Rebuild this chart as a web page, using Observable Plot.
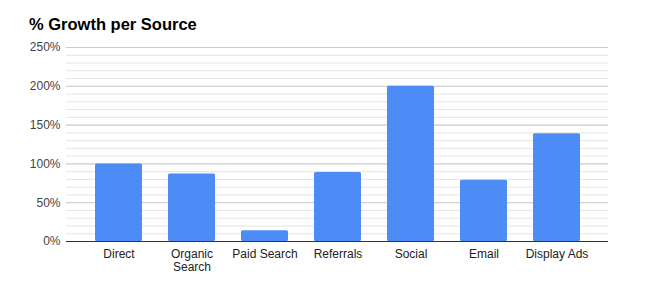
<!DOCTYPE html>
<html>
<head>
<meta charset="utf-8">
<script src="https://cdn.jsdelivr.net/npm/d3@7"></script>
<script src="https://cdn.jsdelivr.net/npm/@observablehq/plot@0.6"></script>
<style>
  html, body { margin: 0; padding: 0; background: #fff; }
  #wrap { width: 661px; height: 285px; font-family: Arial, "Liberation Sans", sans-serif; }
  #title { height: 36px; box-sizing: border-box; padding: 16px 0 0 29px; font-size: 16.5px; line-height: 16px; font-weight: bold; color: #000; }
  svg { display: block; }
</style>
</head>
<body>
<div id="wrap">
  <div id="title">% Growth per Source</div>
  <div id="chart"></div>
</div>
<script>
const categories = ["Direct", "Organic\nSearch", "Paid Search", "Referrals", "Social", "Email", "Display Ads"];
const growth = [100, 87, 14, 89, 200, 79, 139];
const yTicks = [0, 50, 100, 150, 200, 250];

const data = categories.map((c, i) => ({ source: c, value: growth[i] }));

const chart = Plot.plot({
  width: 661,
  height: 249,
  marginLeft: 66,
  marginRight: 53,
  marginTop: 11,
  marginBottom: 44,
  style: { fontFamily: "Arial, 'Liberation Sans', sans-serif", fontSize: "12px", background: "#fff" },
  x: { domain: categories, padding: 0.36, label: null },
  y: { domain: [0, 250], label: null },
  marks: [
    Plot.gridY({ interval: 10, stroke: "#e4e4e4", strokeOpacity: 1 }),
    Plot.gridY({ ticks: yTicks, stroke: "#cccccc", strokeOpacity: 1 }),
    Plot.barY(data, { x: "source", y: "value", fill: "#4d8cf6", rx: 1.5 }),
    Plot.ruleY([0], { stroke: "#333", strokeWidth: 1.2 }),
    Plot.axisY({ ticks: yTicks, tickSize: 0, tickPadding: 6, tickFormat: d => d + "%", fill: "#444", fontSize: 12 }),
    Plot.axisX({ tickSize: 0, tickPadding: 7, fill: "#222", fontSize: 12, lineHeight: 1.1 })
  ]
});
document.getElementById("chart").appendChild(chart);
</script>
</body>
</html>
